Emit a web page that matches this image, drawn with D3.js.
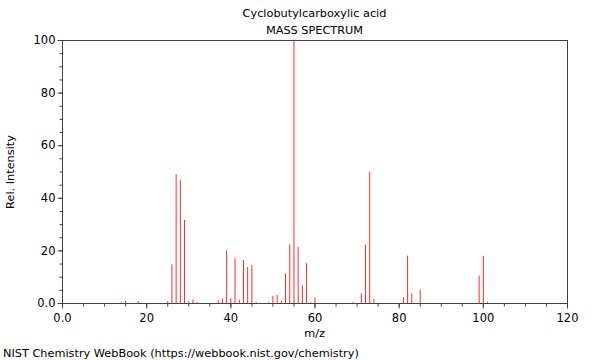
<!DOCTYPE html>
<html><head><meta charset="utf-8">
<script src="https://cdn.jsdelivr.net/npm/d3@7"></script>
<style>body{margin:0;background:#fff}svg{display:block;font-family:"DejaVu Sans",sans-serif}</style>
</head><body><svg id="c" width="600" height="360"></svg>
<script>
const title = "Cyclobutylcarboxylic acid";
const subtitle = "MASS SPECTRUM";
const mz =        [12, 13, 14, 15, 18, 25, 26, 27, 28, 29, 30, 31, 32, 37, 38, 39, 40, 41, 42, 43, 44, 45, 46, 49, 50, 51, 52, 53, 54, 55, 56, 57, 58, 59, 60, 69, 71, 72, 73, 74, 75, 81, 82, 83, 85, 99, 100, 101];
const intensity = [0.2,0.3,0.5,1.1,0.9,0.8,14.9,49.2,47.1,31.8,0.8,1.5,0.5,1.3,1.9,20.2,2.0,17.2,1.5,16.5,13.9,14.6,0.6,0.5,2.9,3.3,1.0,11.4,22.5,100,21.5,6.9,15.3,0.4,2.3,0.5,3.8,22.3,50.1,1.8,0.3,2.4,18.2,3.8,5.3,10.6,18.1,0.6];
const xTicks = [0, 20, 40, 60, 80, 100, 120];
const yTicks = [0, 20, 40, 60, 80, 100];

const svg = d3.select("#c");
const L = 62.5, R = 567.5, T = 40.5, B = 303.5;
const x = d3.scaleLinear().domain([0, 120]).range([L, R]);
const y = d3.scaleLinear().domain([0, 100]).range([B, T]);
const axisColor = "#444";
const fmt = d => d === 0 ? "0.0" : String(d);

// peaks
const peaks = svg.append("g").attr("class", "peaks");
peaks.selectAll("line").data(mz).join("line")
  .attr("x1", d => x(d)).attr("x2", d => x(d))
  .attr("y1", y(0)).attr("y2", (d, i) => y(intensity[i]))
  .style("stroke", "#ff2a2a").style("stroke-width", "1px");

// frame
svg.append("rect").attr("x", L).attr("y", T).attr("width", R - L).attr("height", B - T)
  .attr("fill", "none").attr("stroke", axisColor).attr("stroke-width", 1);

// x axis minor
svg.append("g").attr("transform", `translate(0,${B})`)
  .call(d3.axisBottom(x).tickValues(d3.range(0, 121, 5)).tickSize(3).tickFormat("").offset(0))
  .call(g => g.select(".domain").remove())
  .call(g => g.selectAll("line").attr("stroke", axisColor));
// x axis major
svg.append("g").attr("transform", `translate(0,${B})`)
  .call(d3.axisBottom(x).tickValues(xTicks).tickSize(5).tickFormat(fmt).offset(0))
  .call(g => g.select(".domain").remove())
  .call(g => g.selectAll("line").attr("stroke", axisColor))
  .call(g => g.selectAll("text").attr("font-size", 11.5).attr("fill", "#000").attr("font-family", "DejaVu Sans").attr("dy", "0.95em"));

// y axis minor
svg.append("g").attr("transform", `translate(${L},0)`)
  .call(d3.axisLeft(y).tickValues(d3.range(0, 101, 5)).tickSize(3).tickFormat("").offset(0))
  .call(g => g.select(".domain").remove())
  .call(g => g.selectAll("line").attr("stroke", axisColor));
// y axis major
svg.append("g").attr("transform", `translate(${L},0)`)
  .call(d3.axisLeft(y).tickValues(yTicks).tickSize(5).tickFormat(fmt).offset(0))
  .call(g => g.select(".domain").remove())
  .call(g => g.selectAll("line").attr("stroke", axisColor))
  .call(g => g.selectAll("text").attr("font-size", 11.5).attr("fill", "#000").attr("font-family", "DejaVu Sans").attr("x", -7));

// titles
svg.append("text").attr("x", 314.5).attr("y", 17).attr("text-anchor", "middle")
  .attr("font-size", 11.3).text(title);
svg.append("text").attr("x", 314.5).attr("y", 34).attr("text-anchor", "middle")
  .attr("font-size", 11.3).text(subtitle);
svg.append("text").attr("x", 314.5).attr("y", 337).attr("text-anchor", "middle")
  .attr("font-size", 11.3).text("m/z");
svg.append("text").attr("transform", `translate(14,172) rotate(-90)`)
  .attr("text-anchor", "middle").attr("font-size", 11.3).text("Rel. Intensity");
svg.append("text").attr("x", 3).attr("y", 357).attr("font-size", 11.3)
  .text("NIST Chemistry WebBook (https://webbook.nist.gov/chemistry)");
</script></body></html>
